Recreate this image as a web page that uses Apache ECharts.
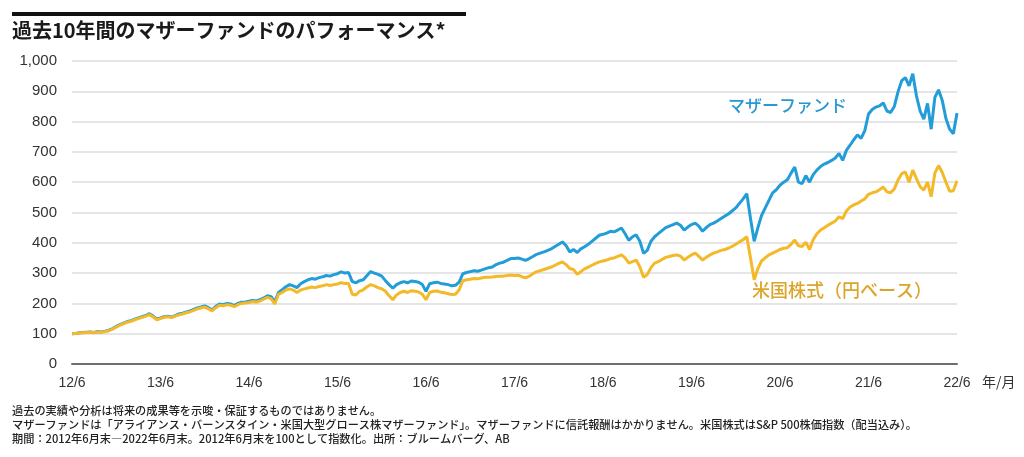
<!DOCTYPE html>
<html>
<head>
<meta charset="utf-8">
<script src="https://cdn.jsdelivr.net/npm/echarts@6/dist/echarts.min.js"></script>
<style>
html,body{margin:0;padding:0;background:#fff;}
#c{width:1024px;height:457px;}
</style>
</head>
<body>
<div id="c"></div>
<script>
// Semi-monthly observations from 2012/6 (index 0) to 2022/6 (index 240), indexed to 100
const xTickLabels = ['12/6','13/6','14/6','15/6','16/6','17/6','18/6','19/6','20/6','21/6','22/6'];
const yTickValues = [0,100,200,300,400,500,600,700,800,900,1000];

const motherFund = [
  100,101,103,104,105,106,104,107,106,108,112,117,124,130,135,140,143,148,152,156,160,166,158,149,
  152,156,158,155,160,165,168,172,175,180,185,188,192,186,178,190,198,196,200,198,193,200,204,205,
  207,210,208,212,218,225,222,205,236,245,255,262,258,252,265,272,278,282,280,285,288,292,290,295,
  298,304,300,302,272,268,275,278,292,305,300,296,290,275,262,250,262,268,272,268,274,272,270,262,
  240,265,268,270,266,264,262,258,260,270,298,302,305,308,306,310,314,318,320,328,333,336,342,348,
  348,350,346,342,348,355,362,366,370,375,380,388,395,403,390,370,378,368,380,387,395,405,415,425,
  428,432,438,436,442,449,430,408,420,426,405,365,375,405,420,430,440,450,455,460,465,458,442,452,
  460,465,455,438,450,460,465,472,480,488,495,505,515,530,545,562,480,405,450,490,515,540,565,575,
  590,600,608,630,650,600,595,622,600,625,640,652,660,665,672,680,695,672,705,722,740,756,745,770,
  825,840,848,852,862,835,830,850,898,935,945,918,958,885,835,808,860,775,880,905,870,810,775,760,828
];
const usStocksJPY = [
  100,101,102,103,104,105,103,106,105,107,110,115,122,128,133,138,141,146,150,154,158,163,155,146,
  150,154,156,153,158,162,165,169,172,177,182,185,188,182,175,186,194,192,196,194,189,196,200,201,
  203,206,204,208,214,220,216,198,230,236,244,248,244,236,244,248,251,254,252,256,258,262,259,262,
  264,268,266,266,230,228,240,245,255,262,258,252,248,240,225,212,228,236,240,236,242,240,238,230,
  212,236,240,241,237,235,232,229,230,245,275,278,280,282,281,284,286,286,287,289,290,290,292,294,
  292,293,288,284,290,298,305,308,312,316,320,326,332,337,328,315,312,296,305,314,320,326,332,337,
  340,343,348,350,355,360,350,333,338,343,320,286,295,318,333,338,345,352,355,358,360,356,343,352,
  360,366,355,343,352,360,366,370,375,378,382,388,395,403,410,420,350,278,315,340,350,360,366,372,
  378,382,384,395,409,390,388,402,378,410,430,442,450,458,465,472,486,480,505,518,525,530,538,545,
  560,565,568,575,584,568,565,578,607,628,634,600,640,612,585,574,600,552,630,655,632,600,570,572,605
];

const seriesNames = ['マザーファンド', '米国株式(円ベース)'];
const titleText = '過去10年間のマザーファンドのパフォーマンス*';
const notes = [
  '過去の実績や分析は将来の成果等を示唆・保証するものではありません。',
  'マザーファンドは「アライアンス・バーンスタイン・米国大型グロース株マザーファンド」。マザーファンドに信託報酬はかかりません。米国株式はS&P 500株価指数（配当込み）。',
  '期間：2012年6月末―2022年6月末。2012年6月末を100として指数化。出所：ブルームバーグ、AB'
];
const unitLabel = '年/月';

const BLUE = '#239dd8';
const GOLD = '#f4b928';
const JP = '"Noto Sans CJK JP", "Noto Sans", sans-serif';
const NUM = '"Liberation Sans", Arial, sans-serif';

const toPairs = arr => arr.map((v, i) => [i / 2, v]);

const chart = echarts.init(document.getElementById('c'), null, {renderer: 'canvas'});
chart.setOption({
  animation: false,
  backgroundColor: '#ffffff',
  grid: {left: 72, right: 67, top: 61, bottom: 93, containLabel: false},
  xAxis: {
    type: 'value', min: 0, max: 120, interval: 12,
    axisLine: {show: true, onZero: false, lineStyle: {color: '#6e6e6e', width: 2}},
    axisTick: {show: false},
    splitLine: {show: false},
    axisLabel: {
      margin: 12, color: '#333', fontSize: 14, fontFamily: NUM,
      formatter: v => xTickLabels[Math.round(v / 12)] || ''
    }
  },
  yAxis: {
    type: 'value', min: 0, max: 1000, interval: 100,
    axisLine: {show: false}, axisTick: {show: false},
    splitLine: {show: true, lineStyle: {color: '#dcdcdc', width: 1.5}},
    axisLabel: {
      margin: 15, color: '#333', fontSize: 15, fontFamily: NUM,
      formatter: v => yTickValues.indexOf(v) >= 0 ? v.toLocaleString('en-US') : ''
    }
  },
  series: [
    {name: seriesNames[0], type: 'line', data: toPairs(motherFund), showSymbol: false,
     lineStyle: {color: BLUE, width: 3}, itemStyle: {color: BLUE}, z: 2},
    {name: seriesNames[1], type: 'line', data: toPairs(usStocksJPY), showSymbol: false,
     lineStyle: {color: GOLD, width: 3}, itemStyle: {color: GOLD}, z: 3}
  ],
  graphic: [
    {type: 'rect', shape: {x: 12, y: 12, width: 454, height: 4}, style: {fill: '#111'}},
    {type: 'text', left: 12, top: 20, style: {text: titleText, fill: '#1a1a1a', font: 'bold 20px ' + JP}},
    {type: 'text', left: 728, top: 97, style: {text: seriesNames[0], fill: '#2899d0', font: '500 17px ' + JP}},
    {type: 'text', left: 752, top: 281, style: {text: '米国株式（円ベース）', fill: '#dca52a', font: '500 18px ' + JP}},
    {type: 'text', left: 982, top: 375, style: {text: unitLabel, fill: '#333', font: '14px ' + JP}},
    {type: 'text', left: 12, top: 405, style: {text: notes[0], fill: '#222', font: '500 11.2px ' + JP}},
    {type: 'text', left: 12, top: 419, style: {text: notes[1], fill: '#222', font: '500 11.2px ' + JP}},
    {type: 'text', left: 12, top: 433, style: {text: notes[2], fill: '#222', font: '500 11.2px ' + JP}}
  ]
});
</script>
</body>
</html>
